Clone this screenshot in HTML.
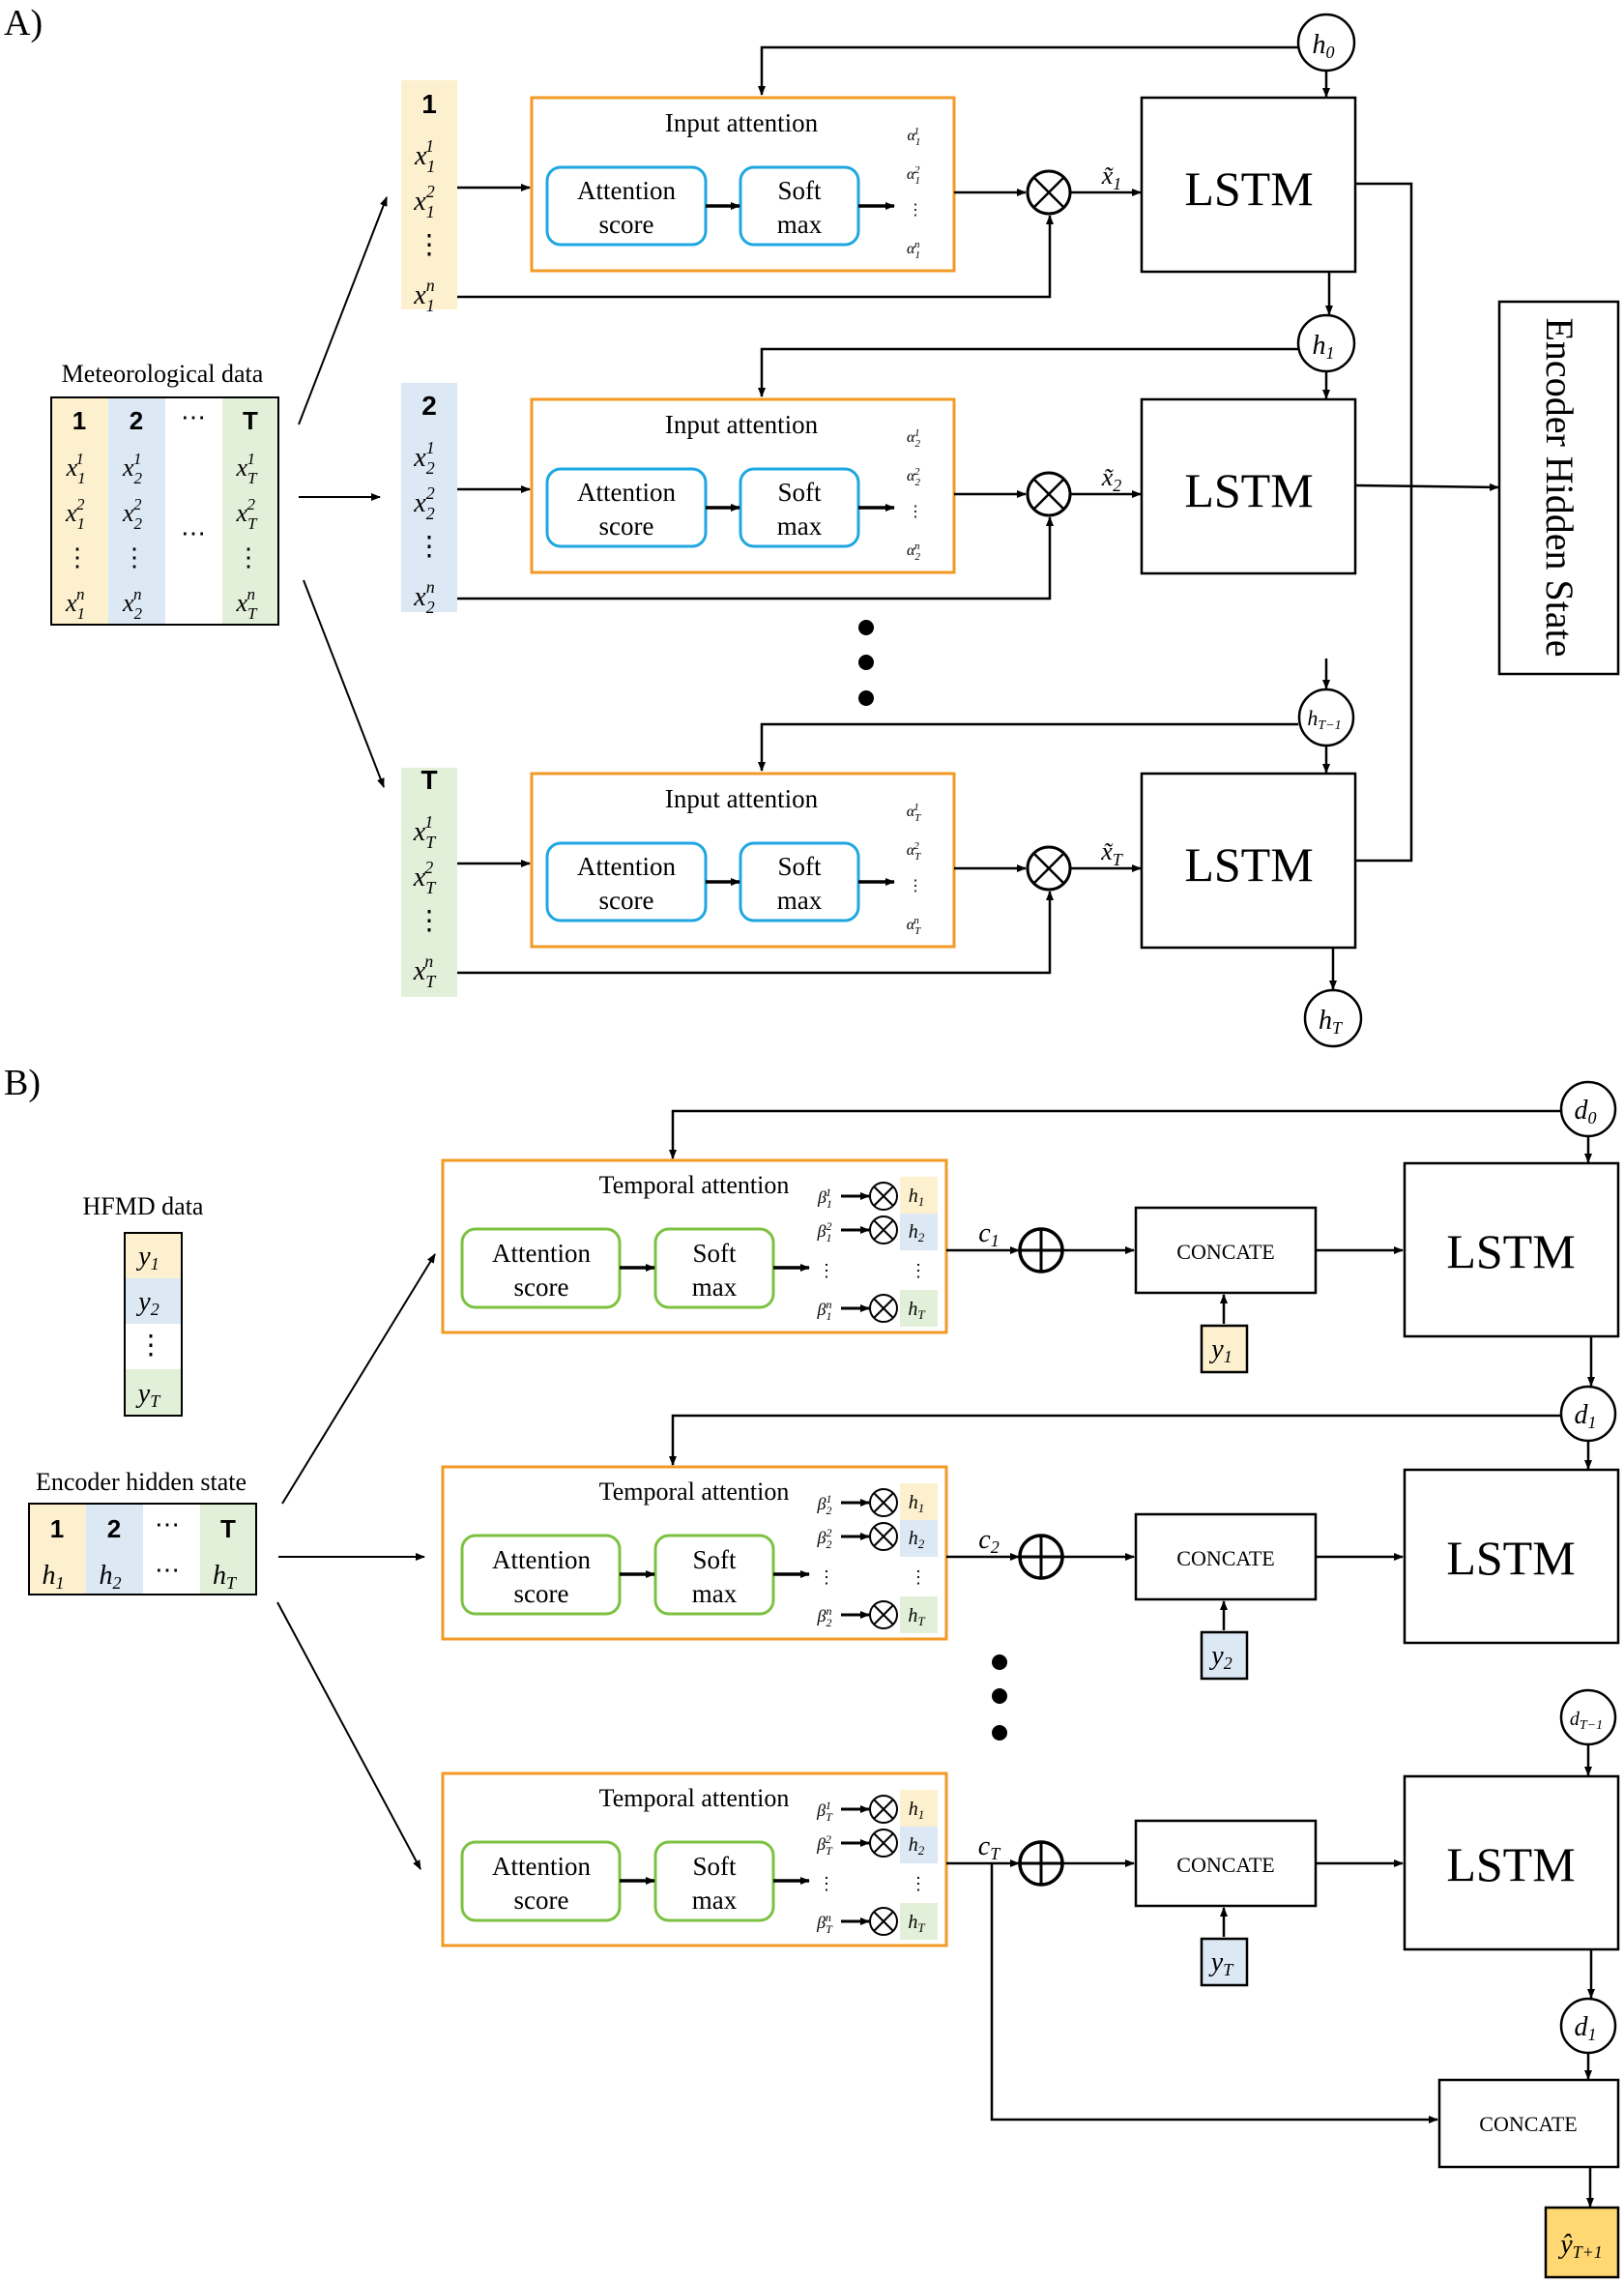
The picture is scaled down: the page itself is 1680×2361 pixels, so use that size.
<!DOCTYPE html>
<html><head><meta charset="utf-8"><style>
html,body{margin:0;padding:0;background:#fff}
svg{display:block}
text{font-family:"Liberation Serif",serif;fill:#000}
.m{font-style:italic}
.b{font-family:"Liberation Sans",sans-serif;font-weight:bold}
</style></head><body>
<svg width="1680" height="2361" viewBox="0 0 1680 2361" xmlns="http://www.w3.org/2000/svg">
<defs>
<marker id="a" markerWidth="10" markerHeight="10" refX="9" refY="5" orient="auto" markerUnits="userSpaceOnUse"><path d="M0,1 L10,5 L0,9 z" fill="#000"/></marker>
<marker id="a2" markerWidth="14" markerHeight="12" refX="13" refY="6" orient="auto" markerUnits="userSpaceOnUse"><path d="M0,1 L14,6 L0,11 z" fill="#000"/></marker>
</defs>
<g stroke="#000" stroke-width="2.5" fill="none">
<!-- ===== A ===== -->
<!-- rows -->
<g id="rA">
</g>
</g>

<text x="4" y="36" font-size="38">A)</text>
<text x="4" y="1132" font-size="38">B)</text>

<!-- Meteorological table -->
<text x="168" y="395" font-size="26" text-anchor="middle">Meteorological data</text>
<rect x="53" y="411" width="59" height="235" fill="#fdf0cf"/>
<rect x="112" y="411" width="59" height="235" fill="#dce8f4"/>
<rect x="230" y="411" width="58" height="235" fill="#e2efd9"/>
<rect x="53" y="411" width="235" height="235" fill="none" stroke="#000" stroke-width="2"/>
<g font-size="26" text-anchor="middle">
<text class="b" x="82" y="444">1</text><text class="b" x="141" y="444">2</text><text x="200" y="440">⋯</text><text class="b" x="259" y="444">T</text>
<text class="m" x="78" y="492">x<tspan font-size="17" dy="8">1</tspan><tspan font-size="17" dy="-20" dx="-9">1</tspan></text>
<text class="m" x="137" y="492">x<tspan font-size="17" dy="8">2</tspan><tspan font-size="17" dy="-20" dx="-9">1</tspan></text>
<text class="m" x="255" y="492">x<tspan font-size="17" dy="8">T</tspan><tspan font-size="17" dy="-20" dx="-10">1</tspan></text>
<text class="m" x="78" y="539">x<tspan font-size="17" dy="8">1</tspan><tspan font-size="17" dy="-20" dx="-9">2</tspan></text>
<text class="m" x="137" y="539">x<tspan font-size="17" dy="8">2</tspan><tspan font-size="17" dy="-20" dx="-9">2</tspan></text>
<text class="m" x="255" y="539">x<tspan font-size="17" dy="8">T</tspan><tspan font-size="17" dy="-20" dx="-10">2</tspan></text>
<text x="200" y="560">⋯</text>
<text x="80" y="585">⋮</text><text x="139" y="585">⋮</text><text x="257" y="585">⋮</text>
<text class="m" x="78" y="632">x<tspan font-size="17" dy="8">1</tspan><tspan font-size="17" dy="-20" dx="-9">n</tspan></text>
<text class="m" x="137" y="632">x<tspan font-size="17" dy="8">2</tspan><tspan font-size="17" dy="-20" dx="-9">n</tspan></text>
<text class="m" x="255" y="632">x<tspan font-size="17" dy="8">T</tspan><tspan font-size="17" dy="-20" dx="-10">n</tspan></text>
</g>
<g stroke="#000" stroke-width="2" fill="none">
<line x1="309" y1="439" x2="400" y2="204" marker-end="url(#a)"/>
<line x1="309" y1="514" x2="393" y2="514" marker-end="url(#a)"/>
<line x1="314" y1="600" x2="397" y2="814" marker-end="url(#a)"/>
</g>

<!-- A row template, rows at dy 0, 312, 699 -->
<g id="row1">
<rect x="415" y="83" width="58" height="237" fill="#fdf0cf"/>
</g>
<rect x="415" y="396" width="58" height="237" fill="#dce8f4"/>
<rect x="415" y="794" width="58" height="237" fill="#e2efd9"/>

<g font-size="28" text-anchor="middle">
<text class="b" x="444" y="117">1</text>
<text class="b" x="444" y="429">2</text>
<text class="b" x="444" y="816">T</text>
</g>

<!-- per-row content -->
<g>
<!-- ROW 1 -->
<g transform="translate(0,0)">
<g font-size="28" text-anchor="middle" class="m">
<text x="439" y="170">x<tspan font-size="18" dy="8">1</tspan><tspan font-size="18" dy="-21" dx="-9">1</tspan></text>
<text x="439" y="217">x<tspan font-size="18" dy="8">1</tspan><tspan font-size="18" dy="-21" dx="-9">2</tspan></text>
<text x="444" y="262" style="font-style:normal">⋮</text>
<text x="439" y="314">x<tspan font-size="18" dy="8">1</tspan><tspan font-size="18" dy="-21" dx="-9">n</tspan></text>
</g>
<g font-size="16" class="m" text-anchor="middle">
<text x="945" y="145">α<tspan font-size="11" dy="5">1</tspan><tspan font-size="11" dy="-11" dx="-6">1</tspan></text>
<text x="945" y="185">α<tspan font-size="11" dy="5">1</tspan><tspan font-size="11" dy="-11" dx="-6">2</tspan></text>
<text x="947" y="222" style="font-style:normal">⋮</text>
<text x="945" y="262">α<tspan font-size="11" dy="5">1</tspan><tspan font-size="11" dy="-11" dx="-6">n</tspan></text>
</g>
<text x="1150" y="190" font-size="26" class="m" text-anchor="middle">x̃<tspan font-size="18" dy="6">1</tspan></text>
</g>
<!-- ROW 2 -->
<g transform="translate(0,312)">
<g font-size="28" text-anchor="middle" class="m">
<text x="439" y="170">x<tspan font-size="18" dy="8">2</tspan><tspan font-size="18" dy="-21" dx="-9">1</tspan></text>
<text x="439" y="217">x<tspan font-size="18" dy="8">2</tspan><tspan font-size="18" dy="-21" dx="-9">2</tspan></text>
<text x="444" y="262" style="font-style:normal">⋮</text>
<text x="439" y="314">x<tspan font-size="18" dy="8">2</tspan><tspan font-size="18" dy="-21" dx="-9">n</tspan></text>
</g>
<g font-size="16" class="m" text-anchor="middle">
<text x="945" y="145">α<tspan font-size="11" dy="5">2</tspan><tspan font-size="11" dy="-11" dx="-6">1</tspan></text>
<text x="945" y="185">α<tspan font-size="11" dy="5">2</tspan><tspan font-size="11" dy="-11" dx="-6">2</tspan></text>
<text x="947" y="222" style="font-style:normal">⋮</text>
<text x="945" y="262">α<tspan font-size="11" dy="5">2</tspan><tspan font-size="11" dy="-11" dx="-6">n</tspan></text>
</g>
<text x="1150" y="190" font-size="26" class="m" text-anchor="middle">x̃<tspan font-size="18" dy="6">2</tspan></text>
</g>
<!-- ROW 3 -->
<g transform="translate(0,699)">
<g font-size="28" text-anchor="middle" class="m">
<text x="439" y="170">x<tspan font-size="18" dy="8">T</tspan><tspan font-size="18" dy="-21" dx="-11">1</tspan></text>
<text x="439" y="217">x<tspan font-size="18" dy="8">T</tspan><tspan font-size="18" dy="-21" dx="-11">2</tspan></text>
<text x="444" y="262" style="font-style:normal">⋮</text>
<text x="439" y="314">x<tspan font-size="18" dy="8">T</tspan><tspan font-size="18" dy="-21" dx="-11">n</tspan></text>
</g>
<g font-size="16" class="m" text-anchor="middle">
<text x="945" y="145">α<tspan font-size="11" dy="5">T</tspan><tspan font-size="11" dy="-11" dx="-7">1</tspan></text>
<text x="945" y="185">α<tspan font-size="11" dy="5">T</tspan><tspan font-size="11" dy="-11" dx="-7">2</tspan></text>
<text x="947" y="222" style="font-style:normal">⋮</text>
<text x="945" y="262">α<tspan font-size="11" dy="5">T</tspan><tspan font-size="11" dy="-11" dx="-7">n</tspan></text>
</g>
<text x="1150" y="190" font-size="26" class="m" text-anchor="middle">x̃<tspan font-size="18" dy="6">T</tspan></text>
</g>
</g>

<!-- common A row structure -->
<g id="Astruct">
<g transform="translate(0,0)">
<rect x="550" y="101" width="437" height="179" fill="none" stroke="#f39a24" stroke-width="3"/>
<text x="767" y="136" font-size="27" text-anchor="middle">Input attention</text>
<rect x="566" y="173" width="164" height="80" rx="14" fill="none" stroke="#1ea7e1" stroke-width="3"/>
<text x="648" y="206" font-size="27" text-anchor="middle">Attention</text><text x="648" y="241" font-size="27" text-anchor="middle">score</text>
<rect x="766" y="173" width="122" height="80" rx="14" fill="none" stroke="#1ea7e1" stroke-width="3"/>
<text x="827" y="206" font-size="27" text-anchor="middle">Soft</text><text x="827" y="241" font-size="27" text-anchor="middle">max</text>
<g stroke="#000" fill="none">
<line x1="730" y1="213" x2="765" y2="213" stroke-width="3.5" marker-end="url(#a)"/>
<line x1="888" y1="213" x2="925" y2="213" stroke-width="3.5" marker-end="url(#a)"/>
<line x1="473" y1="194" x2="548" y2="194" stroke-width="2.5" marker-end="url(#a)"/>
<line x1="987" y1="199" x2="1061" y2="199" stroke-width="2.5" marker-end="url(#a)"/>
<polyline points="473,307 1086,307 1086,223" stroke-width="2.5" marker-end="url(#a)"/>
<circle cx="1085" cy="199" r="22" stroke-width="3"/>
<line x1="1069" y1="183" x2="1101" y2="215" stroke-width="2.5"/><line x1="1101" y1="183" x2="1069" y2="215" stroke-width="2.5"/>
<line x1="1107" y1="199" x2="1180" y2="199" stroke-width="2.5" marker-end="url(#a)"/>
<rect x="1181" y="101" width="221" height="180" stroke-width="2.5"/>
</g>
<text x="1292" y="212" font-size="50" text-anchor="middle">LSTM</text>
</g>
</g>
<use href="#Astruct" transform="translate(0,312)"/>
<use href="#Astruct" transform="translate(0,699)"/>

<!-- A hidden-state wiring -->
<g stroke="#000" stroke-width="2.5" fill="none">
<polyline points="1343,49 788,49 788,98" marker-end="url(#a)"/>
<line x1="1372" y1="73" x2="1372" y2="100" marker-end="url(#a)"/>
<line x1="1375" y1="281" x2="1375" y2="325" marker-end="url(#a)"/>
<polyline points="1343,361 788,361 788,410" marker-end="url(#a)"/>
<line x1="1372" y1="384" x2="1372" y2="412" marker-end="url(#a)"/>
<line x1="1372" y1="681" x2="1372" y2="712" marker-end="url(#a)"/>
<polyline points="1343,749 788,749 788,797" marker-end="url(#a)"/>
<line x1="1372" y1="771" x2="1372" y2="799" marker-end="url(#a)"/>
<line x1="1379" y1="980" x2="1379" y2="1023" marker-end="url(#a)"/>
<polyline points="1402,190 1460,190 1460,890 1402,890"/>
<line x1="1402" y1="502" x2="1550" y2="504" marker-end="url(#a)"/>
<circle cx="1372" cy="44" r="29" fill="#fff"/>
<circle cx="1372" cy="355" r="29" fill="#fff"/>
<ellipse cx="1372" cy="742" rx="28" ry="29" fill="#fff"/>
<circle cx="1379" cy="1053" r="29" fill="#fff"/>
<rect x="1551" y="312" width="123" height="385"/>
</g>
<g class="m" text-anchor="middle">
<text x="1369" y="55" font-size="28">h<tspan font-size="18" dy="5">0</tspan></text>
<text x="1369" y="366" font-size="28">h<tspan font-size="18" dy="5">1</tspan></text>
<text x="1370" y="750" font-size="22">h<tspan font-size="14" dy="4">T−1</tspan></text>
<text x="1376" y="1064" font-size="28">h<tspan font-size="18" dy="5">T</tspan></text>
</g>
<text transform="translate(1600,504) rotate(90)" font-size="40" text-anchor="middle">Encoder Hidden State</text>
<g fill="#000"><circle cx="896" cy="649" r="8"/><circle cx="896" cy="685" r="8"/><circle cx="896" cy="722" r="8"/></g>

<!-- ===== B ===== -->
<text x="148" y="1256" font-size="26" text-anchor="middle">HFMD data</text>
<rect x="129" y="1275" width="59" height="47" fill="#fdf0cf"/>
<rect x="129" y="1322" width="59" height="47" fill="#dce8f4"/>
<rect x="129" y="1416" width="59" height="48" fill="#e2efd9"/>
<rect x="129" y="1275" width="59" height="189" fill="none" stroke="#000" stroke-width="2"/>
<g class="m" font-size="28" text-anchor="middle">
<text x="154" y="1308">y<tspan font-size="18" dy="5">1</tspan></text>
<text x="154" y="1355">y<tspan font-size="18" dy="5">2</tspan></text>
<text x="156" y="1400" style="font-style:normal">⋮</text>
<text x="154" y="1450">y<tspan font-size="18" dy="5">T</tspan></text>
</g>
<text x="146" y="1541" font-size="26" text-anchor="middle">Encoder hidden state</text>
<rect x="30" y="1555" width="59" height="94" fill="#fdf0cf"/>
<rect x="89" y="1555" width="59" height="94" fill="#dce8f4"/>
<rect x="207" y="1555" width="58" height="94" fill="#e2efd9"/>
<rect x="30" y="1555" width="235" height="94" fill="none" stroke="#000" stroke-width="2"/>
<g font-size="26" text-anchor="middle">
<text class="b" x="59" y="1590">1</text><text class="b" x="118" y="1590">2</text><text x="173" y="1585">⋯</text><text class="b" x="236" y="1590">T</text>
<text class="m" x="55" y="1638" font-size="28">h<tspan font-size="18" dy="5">1</tspan></text>
<text class="m" x="114" y="1638" font-size="28">h<tspan font-size="18" dy="5">2</tspan></text>
<text x="173" y="1632">⋯</text>
<text class="m" x="232" y="1638" font-size="28">h<tspan font-size="18" dy="5">T</tspan></text>
</g>
<g stroke="#000" stroke-width="2" fill="none">
<line x1="292" y1="1555" x2="450" y2="1297" marker-end="url(#a)"/>
<line x1="288" y1="1610" x2="439" y2="1610" marker-end="url(#a)"/>
<line x1="287" y1="1657" x2="435" y2="1933" marker-end="url(#a)"/>
</g>

<g id="Bstruct">
<rect x="458" y="1200" width="521" height="178" fill="none" stroke="#f39a24" stroke-width="3"/>
<text x="718" y="1234" font-size="26" text-anchor="middle">Temporal attention</text>
<rect x="478" y="1271" width="163" height="81" rx="14" fill="none" stroke="#7cc242" stroke-width="3"/>
<text x="560" y="1305" font-size="27" text-anchor="middle">Attention</text><text x="560" y="1340" font-size="27" text-anchor="middle">score</text>
<rect x="678" y="1271" width="122" height="81" rx="14" fill="none" stroke="#7cc242" stroke-width="3"/>
<text x="739" y="1305" font-size="27" text-anchor="middle">Soft</text><text x="739" y="1340" font-size="27" text-anchor="middle">max</text>
<rect x="931" y="1217" width="39" height="38" fill="#fdf0cf"/>
<rect x="931" y="1255" width="39" height="38" fill="#dce8f4"/>
<rect x="931" y="1334" width="39" height="38" fill="#e2efd9"/>
<g stroke="#000" fill="none">
<line x1="641" y1="1311" x2="677" y2="1311" stroke-width="3.5" marker-end="url(#a)"/>
<line x1="800" y1="1311" x2="837" y2="1311" stroke-width="3.5" marker-end="url(#a)"/>
<line x1="870" y1="1237" x2="899" y2="1237" stroke-width="3" marker-end="url(#a)"/>
<line x1="870" y1="1272" x2="899" y2="1272" stroke-width="3" marker-end="url(#a)"/>
<line x1="870" y1="1353" x2="899" y2="1353" stroke-width="3" marker-end="url(#a)"/>
<circle cx="914" cy="1237" r="14" stroke-width="2"/><line x1="904" y1="1227" x2="924" y2="1247" stroke-width="2"/><line x1="924" y1="1227" x2="904" y2="1247" stroke-width="2"/>
<circle cx="914" cy="1272" r="14" stroke-width="2"/><line x1="904" y1="1262" x2="924" y2="1282" stroke-width="2"/><line x1="924" y1="1262" x2="904" y2="1282" stroke-width="2"/>
<circle cx="914" cy="1353" r="14" stroke-width="2"/><line x1="904" y1="1343" x2="924" y2="1363" stroke-width="2"/><line x1="924" y1="1343" x2="904" y2="1363" stroke-width="2"/>
<line x1="979" y1="1293" x2="1054" y2="1293" stroke-width="2.5" marker-end="url(#a)"/>
<circle cx="1077" cy="1293" r="22" stroke-width="3.5"/>
<line x1="1055" y1="1293" x2="1099" y2="1293" stroke-width="3"/><line x1="1077" y1="1271" x2="1077" y2="1315" stroke-width="3"/>
<line x1="1099" y1="1293" x2="1173" y2="1293" stroke-width="2.5" marker-end="url(#a)"/>
<rect x="1175" y="1249" width="186" height="88" stroke-width="2.5"/>
<line x1="1361" y1="1293" x2="1451" y2="1293" stroke-width="2.5" marker-end="url(#a)"/>
<rect x="1453" y="1203" width="221" height="179" stroke-width="2.5"/>
<line x1="1266" y1="1369" x2="1266" y2="1339" stroke-width="2.5" marker-end="url(#a)"/>
</g>
<text x="1268" y="1302" font-size="22" text-anchor="middle">CONCATE</text>
<text x="1563" y="1311" font-size="50" text-anchor="middle">LSTM</text>
</g>
<use href="#Bstruct" transform="translate(0,317)"/>
<use href="#Bstruct" transform="translate(0,634)"/>

<!-- per-row B labels -->
<g font-size="18" class="m" text-anchor="middle">
<g transform="translate(0,0)">
<text x="853" y="1244">β<tspan font-size="12" dy="5">1</tspan><tspan font-size="12" dy="-12" dx="-6">1</tspan></text>
<text x="853" y="1279">β<tspan font-size="12" dy="5">1</tspan><tspan font-size="12" dy="-12" dx="-6">2</tspan></text>
<text x="853" y="1360">β<tspan font-size="12" dy="5">1</tspan><tspan font-size="12" dy="-12" dx="-6">n</tspan></text>
</g>
<g transform="translate(0,317)">
<text x="853" y="1244">β<tspan font-size="12" dy="5">2</tspan><tspan font-size="12" dy="-12" dx="-6">1</tspan></text>
<text x="853" y="1279">β<tspan font-size="12" dy="5">2</tspan><tspan font-size="12" dy="-12" dx="-6">2</tspan></text>
<text x="853" y="1360">β<tspan font-size="12" dy="5">2</tspan><tspan font-size="12" dy="-12" dx="-6">n</tspan></text>
</g>
<g transform="translate(0,634)">
<text x="853" y="1244">β<tspan font-size="12" dy="5">T</tspan><tspan font-size="12" dy="-12" dx="-7">1</tspan></text>
<text x="853" y="1279">β<tspan font-size="12" dy="5">T</tspan><tspan font-size="12" dy="-12" dx="-7">2</tspan></text>
<text x="853" y="1360">β<tspan font-size="12" dy="5">T</tspan><tspan font-size="12" dy="-12" dx="-7">n</tspan></text>
</g>
</g>
<g id="hcol" class="m" font-size="20" text-anchor="middle">
<text x="948" y="1243">h<tspan font-size="13" dy="4">1</tspan></text>
<text x="948" y="1280">h<tspan font-size="13" dy="4">2</tspan></text>
<text x="950" y="1320" style="font-style:normal" font-size="18">⋮</text>
<text x="855" y="1320" style="font-style:normal" font-size="18">⋮</text>
<text x="948" y="1360">h<tspan font-size="13" dy="4">T</tspan></text>
</g>
<use href="#hcol" transform="translate(0,317)"/>
<use href="#hcol" transform="translate(0,634)"/>
<g class="m" font-size="28" text-anchor="middle">
<text x="1023" y="1284">c<tspan font-size="18" dy="5">1</tspan></text>
<text x="1023" y="1601">c<tspan font-size="18" dy="5">2</tspan></text>
<text x="1023" y="1918">c<tspan font-size="18" dy="5">T</tspan></text>
</g>
<!-- y boxes -->
<rect x="1243" y="1371" width="47" height="48" fill="#fdf0cf" stroke="#000" stroke-width="2.5"/>
<rect x="1243" y="1688" width="47" height="48" fill="#dce8f4" stroke="#000" stroke-width="2.5"/>
<rect x="1243" y="2005" width="47" height="48" fill="#dce8f4" stroke="#000" stroke-width="2.5"/>
<g class="m" font-size="28" text-anchor="middle">
<text x="1264" y="1404">y<tspan font-size="18" dy="5">1</tspan></text>
<text x="1264" y="1721">y<tspan font-size="18" dy="5">2</tspan></text>
<text x="1264" y="2038">y<tspan font-size="18" dy="5">T</tspan></text>
</g>

<g stroke="#000" stroke-width="2.5" fill="none">
<polyline points="1615,1149 696,1149 696,1198" marker-end="url(#a)"/>
<line x1="1643" y1="1175" x2="1643" y2="1202" marker-end="url(#a)"/>
<line x1="1646" y1="1382" x2="1646" y2="1433" marker-end="url(#a)"/>
<polyline points="1615,1464 696,1464 696,1515" marker-end="url(#a)"/>
<line x1="1643" y1="1490" x2="1643" y2="1519" marker-end="url(#a)"/>
<line x1="1643" y1="1804" x2="1643" y2="1836" marker-end="url(#a)"/>
<line x1="1646" y1="2016" x2="1646" y2="2066" marker-end="url(#a)"/>
<line x1="1643" y1="2123" x2="1643" y2="2150" marker-end="url(#a)"/>
<polyline points="1026,1927 1026,2192 1487,2192" marker-end="url(#a)"/>
<rect x="1489" y="2151" width="185" height="90"/>
<line x1="1645" y1="2241" x2="1645" y2="2282" marker-end="url(#a)"/>
<rect x="1599" y="2283" width="75" height="72" fill="#ffd873"/>
<circle cx="1643" cy="1147" r="28" fill="#fff"/>
<circle cx="1643" cy="1462" r="28" fill="#fff"/>
<circle cx="1643" cy="1776" r="28" fill="#fff"/>
<circle cx="1643" cy="2095" r="28" fill="#fff"/>
</g>
<text x="1581" y="2204" font-size="22" text-anchor="middle">CONCATE</text>
<g class="m" text-anchor="middle">
<text x="1640" y="1157" font-size="28">d<tspan font-size="18" dy="5">0</tspan></text>
<text x="1640" y="1472" font-size="28">d<tspan font-size="18" dy="5">1</tspan></text>
<text x="1641" y="1784" font-size="20">d<tspan font-size="14" dy="4">T−1</tspan></text>
<text x="1640" y="2105" font-size="28">d<tspan font-size="18" dy="5">1</tspan></text>
<text x="1636" y="2330" font-size="28">ŷ<tspan font-size="18" dy="5">T+1</tspan></text>
</g>
<g fill="#000"><circle cx="1034" cy="1719" r="8"/><circle cx="1034" cy="1754" r="8"/><circle cx="1034" cy="1792" r="8"/></g>
</svg>
</body></html>
